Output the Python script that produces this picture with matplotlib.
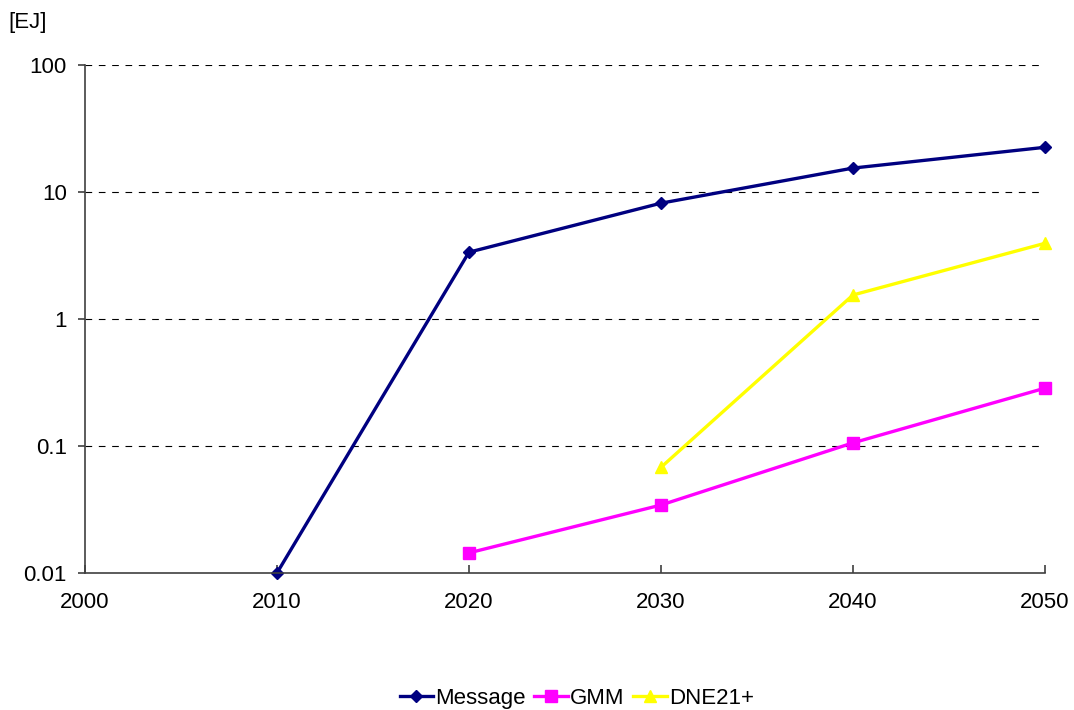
import matplotlib
matplotlib.use("Agg")
import matplotlib.pyplot as plt
from matplotlib.ticker import FixedLocator, FixedFormatter, NullLocator

plt.rcParams['font.family'] = ['Liberation Sans', 'DejaVu Sans']

years_msg = [2010, 2020, 2030, 2040, 2050]
message = [0.01, 3.37, 8.2, 15.5, 22.6]
years_gmm = [2020, 2030, 2040, 2050]
gmm = [0.0144, 0.0343, 0.106, 0.286]
years_dne = [2030, 2040, 2050]
dne = [0.068, 1.55, 3.96]

xticks = [2000, 2010, 2020, 2030, 2040, 2050]
yticks = [0.01, 0.1, 1, 10, 100]
ylabels = ['0.01', '0.1', '1', '10', '100']

fig = plt.figure(figsize=(10.74, 7.10), dpi=100)
ax = fig.add_axes([0.0791, 0.193, 0.8939, 0.715])

ax.plot(years_msg, message, color='#000080', lw=2.4, marker='D', ms=6.5, label='Message', clip_on=False)
ax.plot(years_gmm, gmm, color='#FF00FF', lw=2.4, marker='s', ms=8, label='GMM', clip_on=False)
ax.plot(years_dne, dne, color='#FFFF00', lw=2.4, marker='^', ms=9, label='DNE21+', clip_on=False)

ax.set_yscale('log')
ax.set_ylim(0.01, 100)
ax.set_xlim(2000, 2050)
ax.yaxis.set_major_locator(FixedLocator(yticks))
ax.yaxis.set_major_formatter(FixedFormatter(ylabels))
ax.yaxis.set_minor_locator(NullLocator())
ax.set_xticks(xticks)
ax.set_xticklabels([str(x) for x in xticks])

for y in yticks[1:]:
    ax.axhline(y, color='black', lw=0.8, ls=(0, (6, 6)), zorder=0)

for s in ['top', 'right']:
    ax.spines[s].set_visible(False)
for s in ['left', 'bottom']:
    ax.spines[s].set_color('#404040')
    ax.spines[s].set_linewidth(1.2)

ax.tick_params(axis='both', labelsize=16, colors='#404040', labelcolor='black', width=1.2)
ax.tick_params(axis='y', direction='out', length=5, pad=8)
ax.tick_params(axis='x', direction='in', length=6, pad=14)

fig.text(0.008, 0.968, '[EJ]', fontsize=16, ha='left', va='center')

fig.legend(loc='center', bbox_to_anchor=(0.537, 0.016), ncol=3, frameon=False,
           fontsize=16, handlelength=1.5, handletextpad=0.1, columnspacing=0.4)

fig.savefig('out.png', dpi=100)
